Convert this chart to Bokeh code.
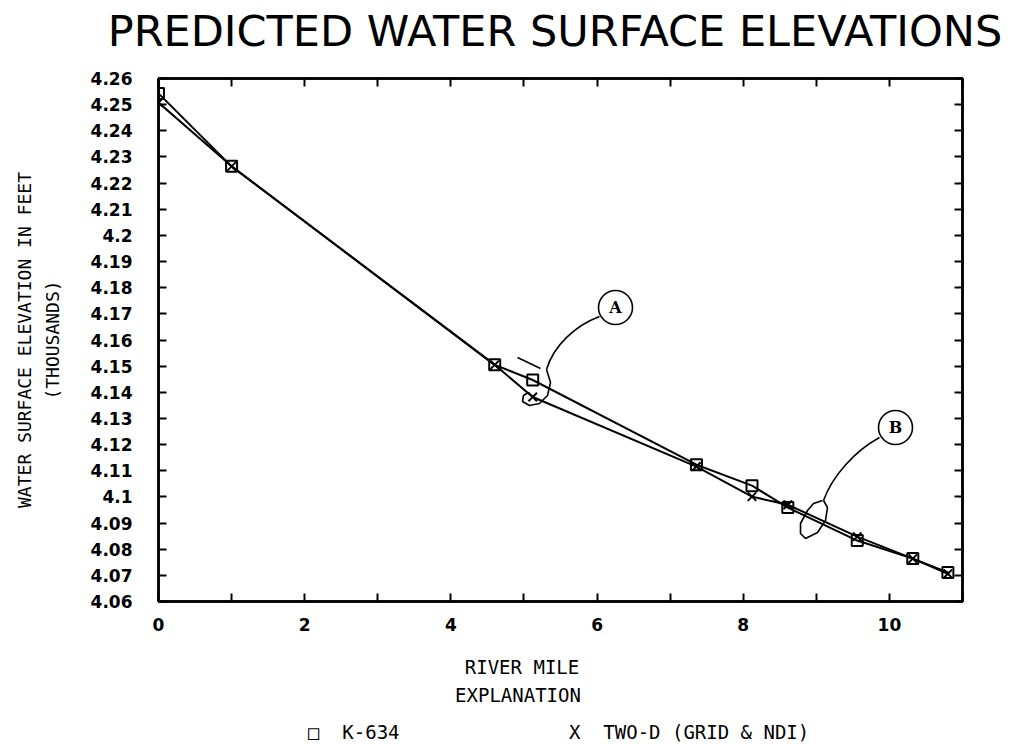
import numpy as np
from bokeh.plotting import figure
from bokeh.layouts import column
from bokeh.models import Range1d, LinearAxis, FixedTicker, CustomJSTickFormatter, Div
from bokeh.core.properties import value
from bokeh.embed import file_html
from bokeh.resources import INLINE

# ---------------- data ----------------
river_mile = [0.0, 1.0, 4.6, 5.12, 7.36, 8.12, 8.61, 9.56, 10.32, 10.8]
k634_elev = [4.2543, 4.2264, 4.1505, 4.1447, 4.1123, 4.1043, 4.0959, 4.0833, 4.0764, 4.0711]
twod_elev = [4.2508, 4.2264, 4.1505, 4.1382, 4.1116, 4.1001, 4.0970, 4.0848, 4.0764, 4.0706]

x_major_ticks = [0, 2, 4, 6, 8, 10]
x_minor_ticks = [1, 3, 5, 7, 9, 11]
x_top_ticks = [0, 1, 2, 3, 4, 5, 6, 7, 8, 9, 10, 11]
y_ticks = [4.06, 4.07, 4.08, 4.09, 4.10, 4.11, 4.12, 4.13, 4.14, 4.15, 4.16,
           4.17, 4.18, 4.19, 4.20, 4.21, 4.22, 4.23, 4.24, 4.25, 4.26]

TITLE = "PREDICTED WATER SURFACE ELEVATIONS"
Y_LABEL = "WATER SURFACE ELEVATION IN FEET\n(THOUSANDS)"
X_LABEL = "RIVER MILE"
EXPLANATION = "EXPLANATION"
LEGEND_1 = "\u25a1&nbsp;&nbsp;K-634"
LEGEND_2 = "X&nbsp;&nbsp;TWO-D (GRID &amp; NDI)"
callout_names = ["A", "B"]

# ---------------- layout (pixels) ----------------
W = 1005
TOP_H, MAIN_H, BOT_H = 70, 571, 103
L, R, T, B = 158, 962, 78, 601          # frame edges on the page
X0, X1, Y0, Y1 = 0.0, 11.0, 4.06, 4.26
MONO = "DejaVu Sans Mono"


def dx(px):
    """page pixel -> data x"""
    return X0 + (px - L) / (R - L) * (X1 - X0)


def dy(py):
    """page pixel -> data y"""
    return Y1 - (py - T) / (B - T) * (Y1 - Y0)


def span(text, left, top, family, size, anchor_x="-50%"):
    return (f'<span style="position:absolute;left:{left}px;top:{top}px;'
            f'transform:translate({anchor_x},-50%);font-family:\'{family}\';font-size:{size}px;'
            f'line-height:1;white-space:nowrap;color:#000;">{text}</span>')


def strip(height, spans):
    html = (f'<div style="position:relative;width:{W}px;height:{height}px;background:#fff;">'
            + "".join(spans) + "</div>")
    return Div(text=html, width=W, height=height, margin=0)


# ---------------- title strip ----------------
ptop = strip(TOP_H, [span(TITLE, 555, 31, "DejaVu Sans", 43)])

# ---------------- main plot ----------------
p = figure(width=W, height=MAIN_H, x_range=Range1d(X0, X1), y_range=Range1d(Y0, Y1),
           output_backend="svg", toolbar_location=None,
           min_border_left=L, min_border_right=W - R, min_border_top=T - TOP_H,
           min_border_bottom=TOP_H + MAIN_H - B,
           x_axis_location=None, y_axis_location=None, margin=0)
p.grid.visible = False
p.outline_line_color = "black"
p.outline_line_width = 2.5
p.background_fill_color = "white"
p.border_fill_color = "white"


def style_axis(ax):
    ax.axis_line_width = 2.5
    ax.axis_line_color = "black"
    ax.major_tick_line_width = 2
    ax.major_tick_line_color = "black"
    ax.major_tick_in = 8
    ax.major_tick_out = 0
    ax.minor_tick_line_width = 2
    ax.minor_tick_line_color = "black"
    ax.minor_tick_in = 8
    ax.minor_tick_out = 0
    ax.major_label_text_font = "DejaVu Sans"
    ax.major_label_text_font_style = "bold"
    ax.major_label_text_font_size = "17px"
    ax.major_label_text_color = "black"


blank = CustomJSTickFormatter(code="return ''")

left_ax = LinearAxis(ticker=FixedTicker(ticks=y_ticks, minor_ticks=[]),
                     formatter=CustomJSTickFormatter(code="return tick.toFixed(2).replace(/0$/, '')"))
style_axis(left_ax)
left_ax.major_label_standoff = 26
left_ax.axis_label = Y_LABEL
left_ax.axis_label_text_font = MONO
left_ax.axis_label_text_font_style = "normal"
left_ax.axis_label_text_font_size = "18px"
left_ax.axis_label_text_line_height = 1.3
left_ax.axis_label_standoff = 25
left_ax.axis_label_text_color = "black"
p.add_layout(left_ax, "left")

right_ax = LinearAxis(ticker=FixedTicker(ticks=y_ticks, minor_ticks=[]), formatter=blank)
style_axis(right_ax)
p.add_layout(right_ax, "right")

bottom_ax = LinearAxis(ticker=FixedTicker(ticks=x_major_ticks, minor_ticks=x_minor_ticks))
style_axis(bottom_ax)
bottom_ax.major_label_standoff = 16
p.add_layout(bottom_ax, "below")

top_ax = LinearAxis(ticker=FixedTicker(ticks=x_top_ticks, minor_ticks=[]), formatter=blank)
style_axis(top_ax)
p.add_layout(top_ax, "above")

# series
p.line(river_mile, k634_elev, line_color="black", line_width=2)
p.line(river_mile, twod_elev, line_color="black", line_width=2)
p.scatter(river_mile, k634_elev, marker="square", size=11, fill_color=None,
          line_color="black", line_width=2)
p.scatter(river_mile, twod_elev, marker="x", size=12, line_color="black", line_width=2)

# callouts A and B (page-pixel positions)
callout_px = [(615, 307), (895, 427)]
leader_px = [
    # x0, y0, x1, y1, cx0, cy0, cx1, cy1
    (599, 316, 546, 369, 575, 325, 553, 345),
    (879, 437, 823, 500, 855, 450, 832, 475),
]
loop_px = [
    [(546, 369), (550, 382), (547, 395), (539, 403), (529, 405), (522, 401), (523, 395), (528, 392)],
    [(823, 500), (827, 507), (825, 520), (817, 532), (805, 538), (800, 533), (800, 523),
     (807, 510), (813, 503), (822, 500)],
]
tick_px = [(517, 357), (540, 368)]

for (x0, y0, x1, y1, cx0, cy0, cx1, cy1) in leader_px:
    p.bezier(x0=dx(x0), y0=dy(y0), x1=dx(x1), y1=dy(y1), cx0=dx(cx0), cy0=dy(cy0),
             cx1=dx(cx1), cy1=dy(cy1), line_color="black", line_width=1.6)
for pts in loop_px:
    p.line([dx(a) for a, b in pts], [dy(b) for a, b in pts], line_color="black", line_width=1.6)
p.line([dx(a) for a, b in tick_px], [dy(b) for a, b in tick_px], line_color="black", line_width=1.6)

p.scatter([dx(a) for a, b in callout_px], [dy(b) for a, b in callout_px], marker="circle",
          size=34, fill_color="white", line_color="black", line_width=1.6)
p.text([dx(a) for a, b in callout_px], [dy(b) for a, b in callout_px], text=callout_names,
       text_font=value("DejaVu Serif"), text_font_style="bold", text_font_size="16px",
       text_align="center", text_baseline="middle", text_color="black")

# ---------------- bottom strip: axis title and explanation ----------------
y_top = TOP_H + MAIN_H
pbot = strip(BOT_H, [
    span(X_LABEL, 522, 667 - y_top, MONO, 19),
    span(EXPLANATION, 518, 695 - y_top, MONO, 19),
    span(LEGEND_1, 308, 732 - y_top, MONO, 19, anchor_x="0"),
    span(LEGEND_2, 569, 732 - y_top, MONO, 19, anchor_x="0"),
])

layout = column(ptop, p, pbot, spacing=0)
open("out.html", "w").write(file_html(layout, INLINE))
